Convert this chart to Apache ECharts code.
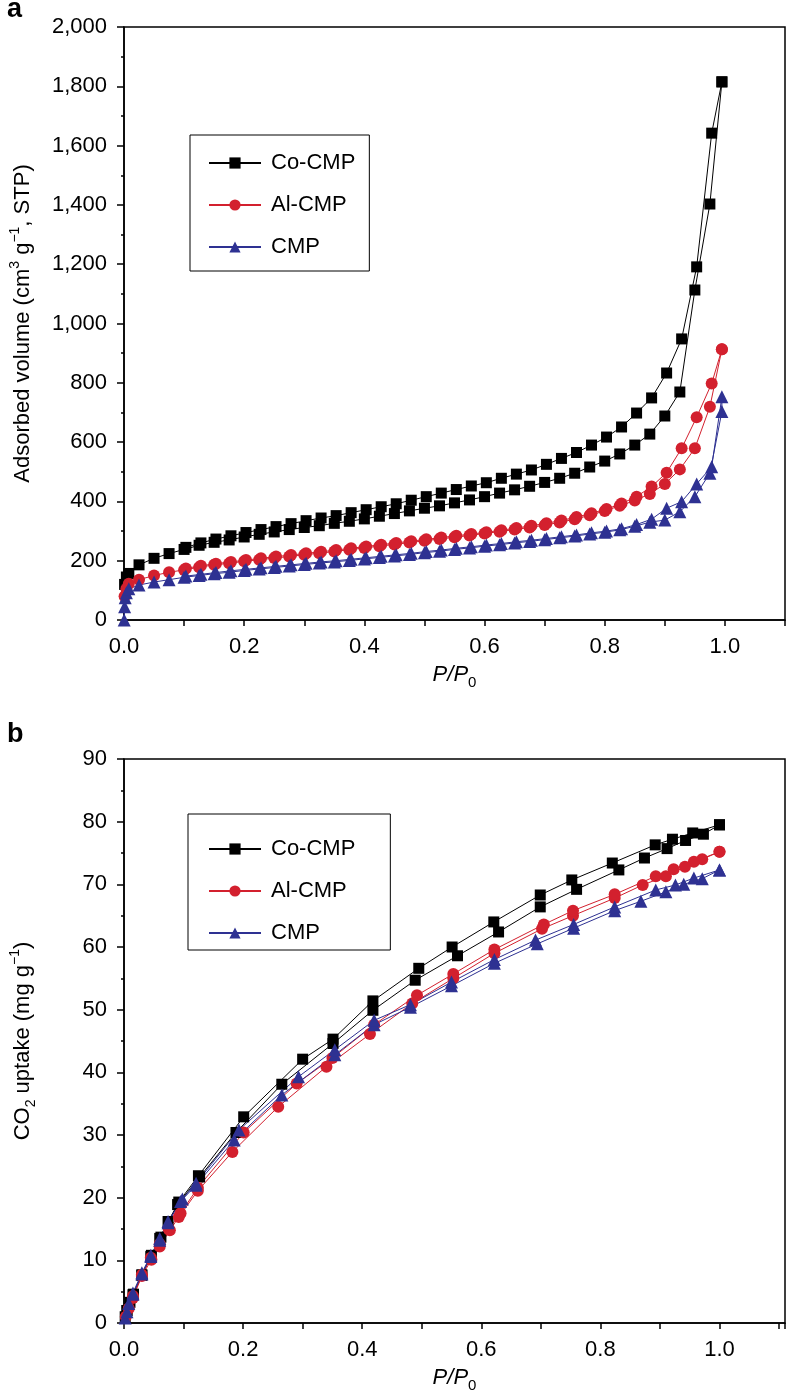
<!DOCTYPE html>
<html><head><meta charset="utf-8">
<script src="https://cdn.jsdelivr.net/npm/echarts@6/dist/echarts.min.js"></script>
<style>html,body{margin:0;padding:0;background:#fff}#c{width:788px;height:1399px}</style>
</head><body><div id="c"></div>
<script>
// ---------- names / ticks ----------
const seriesNames = ['Co-CMP', 'Al-CMP', 'CMP'];
const xTicks = [0, 0.2, 0.4, 0.6, 0.8, 1.0];
const yTicksA = [0, 200, 400, 600, 800, 1000, 1200, 1400, 1600, 1800, 2000];
const yTicksB = [0, 10, 20, 30, 40, 50, 60, 70, 80, 90];

// ---------- panel a: N2 isotherms [P/P0, cm3 g-1] ----------
const aCoAds = [[0.001,120],[0.004,145],[0.008,157],[0.025,186],[0.05,208],[0.075,224],[0.1,238],[0.125,252],[0.15,262],[0.175,270],[0.2,280],[0.225,289],[0.25,297],[0.275,305],[0.3,312],[0.325,318],[0.35,326],[0.375,333],[0.4,341],[0.425,350],[0.45,359],[0.475,368],[0.5,377],[0.525,385],[0.55,395],[0.575,405],[0.6,416],[0.625,428],[0.65,439],[0.675,451],[0.7,464],[0.725,478],[0.75,495],[0.775,516],[0.8,536],[0.825,560],[0.85,590],[0.875,627],[0.9,688],[0.925,769],[0.95,1113],[0.975,1403],[0.995,1815]];
const aCoDes = [[0.995,1815],[0.978,1642],[0.953,1191],[0.928,948],[0.903,833],[0.878,749],[0.853,698],[0.828,651],[0.803,617],[0.778,590],[0.753,565],[0.728,545],[0.703,525],[0.678,506],[0.653,492],[0.628,478],[0.603,463],[0.578,452],[0.553,440],[0.528,428],[0.503,416],[0.478,404],[0.453,392],[0.428,382],[0.403,372],[0.378,362],[0.353,352],[0.328,344],[0.303,335],[0.278,325],[0.253,315],[0.228,305],[0.203,295],[0.178,284],[0.153,273],[0.128,260],[0.103,245]];
const aAlAds = [[0.001,80],[0.004,105],[0.008,122],[0.025,136],[0.05,150],[0.075,161],[0.1,169],[0.125,178],[0.15,186],[0.175,191],[0.2,198],[0.225,203],[0.25,209],[0.275,214],[0.3,220],[0.325,225],[0.35,231],[0.375,237],[0.4,243],[0.425,249],[0.45,255],[0.475,261],[0.5,267],[0.525,273],[0.55,279],[0.575,285],[0.6,292],[0.625,298],[0.65,305],[0.675,312],[0.7,320],[0.725,329],[0.75,340],[0.775,353],[0.8,368],[0.825,385],[0.85,403],[0.875,425],[0.9,459],[0.925,508],[0.95,579],[0.975,719],[0.995,913]];
const aAlDes = [[0.995,913],[0.978,798],[0.953,684],[0.928,579],[0.903,497],[0.878,450],[0.853,416],[0.828,393],[0.803,374],[0.778,360],[0.753,347],[0.728,336],[0.703,326],[0.678,318],[0.653,310],[0.628,303],[0.603,296],[0.578,290],[0.553,284],[0.528,278],[0.503,272],[0.478,266],[0.453,260],[0.428,254],[0.403,248],[0.378,242],[0.353,236],[0.328,230],[0.303,225],[0.278,219],[0.253,214],[0.228,208],[0.203,202],[0.178,196],[0.153,190],[0.128,183],[0.103,174]];
const aCmpAds = [[0.0003,0],[0.001,45],[0.002,75],[0.004,92],[0.008,105],[0.025,118],[0.05,128],[0.075,136],[0.1,144],[0.125,150],[0.15,156],[0.175,161],[0.2,167],[0.225,172],[0.25,177],[0.275,182],[0.3,187],[0.325,192],[0.35,196],[0.375,201],[0.4,206],[0.425,211],[0.45,216],[0.475,221],[0.5,227],[0.525,232],[0.55,238],[0.575,243],[0.6,249],[0.625,254],[0.65,260],[0.675,265],[0.7,271],[0.725,277],[0.75,283],[0.775,290],[0.8,296],[0.825,304],[0.85,316],[0.875,330],[0.9,337],[0.925,365],[0.95,416],[0.975,495],[0.995,703]];
const aCmpDes = [[0.995,753],[0.978,517],[0.953,459],[0.928,399],[0.903,377],[0.878,340],[0.853,322],[0.828,308],[0.803,300],[0.778,294],[0.753,287],[0.728,281],[0.703,275],[0.678,269],[0.653,264],[0.628,258],[0.603,253],[0.578,247],[0.553,242],[0.528,236],[0.503,231],[0.478,225],[0.453,220],[0.428,215],[0.403,210],[0.378,205],[0.353,200],[0.328,196],[0.303,191],[0.278,186],[0.253,181],[0.228,176],[0.203,171],[0.178,166],[0.153,160],[0.128,154],[0.103,148]];

// ---------- panel b: CO2 uptake [P/P0, mg g-1] ----------
const bCoAds = [[0.002,1.0],[0.005,2.0],[0.010,3.3],[0.016,4.6],[0.030,7.6],[0.045,10.6],[0.060,13.5],[0.074,16.2],[0.090,18.9],[0.127,23.3],[0.188,30.4],[0.265,38.1],[0.351,44.6],[0.418,49.9],[0.489,54.7],[0.560,58.6],[0.629,62.4],[0.699,66.4],[0.760,69.2],[0.831,72.3],[0.874,74.2],[0.912,75.7],[0.943,77.0],[0.973,78.0],[1.0,79.5]];
const bCoDes = [[1.0,79.5],[0.955,78.2],[0.921,77.2],[0.892,76.3],[0.820,73.4],[0.752,70.7],[0.699,68.3],[0.621,64.0],[0.551,60.0],[0.495,56.6],[0.418,51.4],[0.351,45.3],[0.300,42.1],[0.201,32.9],[0.125,23.5],[0.092,19.3],[0.062,13.7],[0.046,10.8],[0.030,7.7],[0.015,4.5],[0.005,2.0]];
const bAlAds = [[0.003,1.0],[0.008,2.3],[0.015,4.0],[0.030,7.5],[0.046,10.1],[0.060,12.2],[0.077,14.8],[0.092,16.9],[0.124,21.1],[0.182,27.3],[0.259,34.5],[0.340,40.9],[0.413,46.1],[0.484,51.0],[0.553,55.0],[0.622,59.0],[0.702,62.9],[0.754,65.0],[0.824,67.8],[0.871,69.9],[0.910,71.3],[0.942,72.8],[0.971,74.0],[1.0,75.2]];
const bAlDes = [[1.0,75.2],[0.957,73.6],[0.923,72.4],[0.893,71.3],[0.824,68.4],[0.754,65.8],[0.705,63.6],[0.622,59.6],[0.553,55.7],[0.492,52.3],[0.420,47.6],[0.350,42.3],[0.290,38.2],[0.201,30.4],[0.124,21.6],[0.095,17.5],[0.075,15.0],[0.060,12.6],[0.045,10.4],[0.030,7.7],[0.015,4.3]];
const bCmpAds = [[0.002,0.8],[0.005,1.8],[0.008,3.1],[0.015,4.6],[0.030,7.8],[0.045,10.6],[0.060,13.2],[0.074,16.0],[0.095,19.4],[0.121,22.0],[0.185,29.2],[0.265,36.4],[0.354,42.8],[0.420,47.6],[0.481,50.4],[0.550,53.8],[0.622,57.4],[0.694,60.5],[0.755,63.0],[0.824,65.8],[0.868,67.3],[0.910,68.8],[0.940,70.0],[0.971,70.9],[1.0,72.3]];
const bCmpDes = [[1.0,72.3],[0.957,71.0],[0.926,69.9],[0.893,69.1],[0.824,66.4],[0.755,63.6],[0.691,61.1],[0.622,58.0],[0.550,54.4],[0.481,50.8],[0.420,48.3],[0.354,43.6],[0.293,39.3],[0.193,30.8],[0.121,22.3],[0.098,19.8],[0.074,16.2],[0.060,13.5],[0.045,10.8],[0.030,8.0],[0.015,4.8]];

// ---------- styling ----------
const FONT = '"Liberation Sans", Arial, Helvetica, sans-serif';
const COL = { 'Co-CMP': '#000000', 'Al-CMP': '#d3202e', 'CMP': '#2e3192' };
const SYM = { 'Co-CMP': 'rect', 'Al-CMP': 'circle', 'CMP': 'triangle' };
const SIZE = { 'Co-CMP': 11, 'Al-CMP': 12, 'CMP': 13 };

function series(name, ads, des, idx) {
  return {
    type: 'line', name: name, xAxisIndex: idx, yAxisIndex: idx,
    data: ads.concat(des),
    symbol: SYM[name], symbolSize: SIZE[name], showSymbol: true,
    lineStyle: { color: COL[name], width: 1 },
    itemStyle: { color: COL[name], borderWidth: 0 },
    emphasis: { disabled: true }, animation: false, clip: true
  };
}

const tickLabel = { fontSize: 22, color: '#000', fontFamily: FONT };
function xAxis(idx, max) {
  return {
    type: 'value', gridIndex: idx, min: 0, max: max, interval: 0.1,
    name: '{i|P/P}{sub|0}', nameLocation: 'middle', nameGap: 40,
    nameTextStyle: { fontFamily: FONT, color: '#000',
      rich: { i: { fontSize: 22, fontStyle: 'italic', fontFamily: FONT, color: '#000', lineHeight: 30 },
              sub: { fontSize: 15, fontFamily: FONT, color: '#000', verticalAlign: 'bottom', lineHeight: 15 } } },
    axisLine: { show: true, onZero: false, lineStyle: { color: '#000', width: 1.5 } },
    axisTick: { show: true, inside: false, length: 6, lineStyle: { color: '#000', width: 1.5 } },
    minorTick: { show: false },
    splitLine: { show: false },
    axisLabel: Object.assign({ margin: 16, showMaxLabel: true,
      formatter: function (v) { const k = Math.round(v * 10); return (k % 2 === 0 && k <= 10) ? (k / 10).toFixed(1) : ''; } }, tickLabel)
  };
}
function yAxis(idx, max, interval, nameRich, fmt) {
  return {
    type: 'value', gridIndex: idx, min: 0, max: max, interval: interval,
    name: nameRich, nameLocation: 'middle', nameRotate: 90, nameGap: 86,
    nameTextStyle: { fontFamily: FONT, color: '#000',
      rich: { n: { fontSize: 22, fontFamily: FONT, color: '#000', lineHeight: 30 },
              sup: { fontSize: 14, fontFamily: FONT, color: '#000', verticalAlign: 'top', lineHeight: 14 },
              sub: { fontSize: 14, fontFamily: FONT, color: '#000', verticalAlign: 'bottom', lineHeight: 14 } } },
    axisLine: { show: true, onZero: false, lineStyle: { color: '#000', width: 1.5 } },
    axisTick: { show: true, inside: false, length: 7, lineStyle: { color: '#000', width: 1.5 } },
    minorTick: { show: true, splitNumber: 2, length: 3, lineStyle: { color: '#000', width: 1.5 } },
    splitLine: { show: false }, minorSplitLine: { show: false },
    axisLabel: Object.assign({ margin: 17, formatter: fmt }, tickLabel)
  };
}
function legend(left, top, padding) {
  return {
    data: seriesNames, orient: 'vertical', left: left, top: top,
    padding: padding, itemGap: 18, itemWidth: 52, itemHeight: 14,
    borderColor: '#000', borderWidth: 1, backgroundColor: '#fff',
    selectedMode: false,
    textStyle: { fontSize: 22, fontFamily: FONT, color: '#000', lineHeight: 24, padding: [0, 0, 0, 5] }
  };
}

const chart = echarts.init(document.getElementById('c'), null, { renderer: 'canvas' });
chart.setOption({
  animation: false,
  backgroundColor: '#fff',
  grid: [
    { left: 122, top: 27, width: 663, height: 593, show: true, borderColor: '#000', borderWidth: 1.5, backgroundColor: 'transparent' },
    { left: 122, top: 759, width: 669, height: 564, show: true, borderColor: '#000', borderWidth: 1.5, backgroundColor: 'transparent' }
  ],
  xAxis: [ xAxis(0, 1.1), xAxis(1, 1.11) ],
  yAxis: [
    yAxis(0, 2000, 200, '{n|Adsorbed volume (cm}{sup|3}{n| g}{sup|−1}{n|, STP)}', function (v) { return v.toLocaleString('en-US'); }),
    yAxis(1, 90, 10, '{n|CO}{sub|2}{n| uptake (mg g}{sup|−1}{n|)}', function (v) { return String(v); })
  ],
  legend: [ legend(190, 135, [16, 14, 12, 18]), legend(188, 814, [23, 35, 5, 20]) ],
  graphic: [
    { type: 'text', left: 7, top: -4, style: { text: 'a', font: 'bold 27px ' + FONT, fill: '#000' } },
    { type: 'text', left: 7, top: 721, style: { text: 'b', font: 'bold 27px ' + FONT, fill: '#000' } }
  ],
  series: [
    series('Co-CMP', aCoAds, aCoDes, 0),
    series('Al-CMP', aAlAds, aAlDes, 0),
    series('CMP', aCmpAds, aCmpDes, 0),
    series('Co-CMP', bCoAds, bCoDes, 1),
    series('Al-CMP', bAlAds, bAlDes, 1),
    series('CMP', bCmpAds, bCmpDes, 1)
  ]
});
</script>
</body></html>
